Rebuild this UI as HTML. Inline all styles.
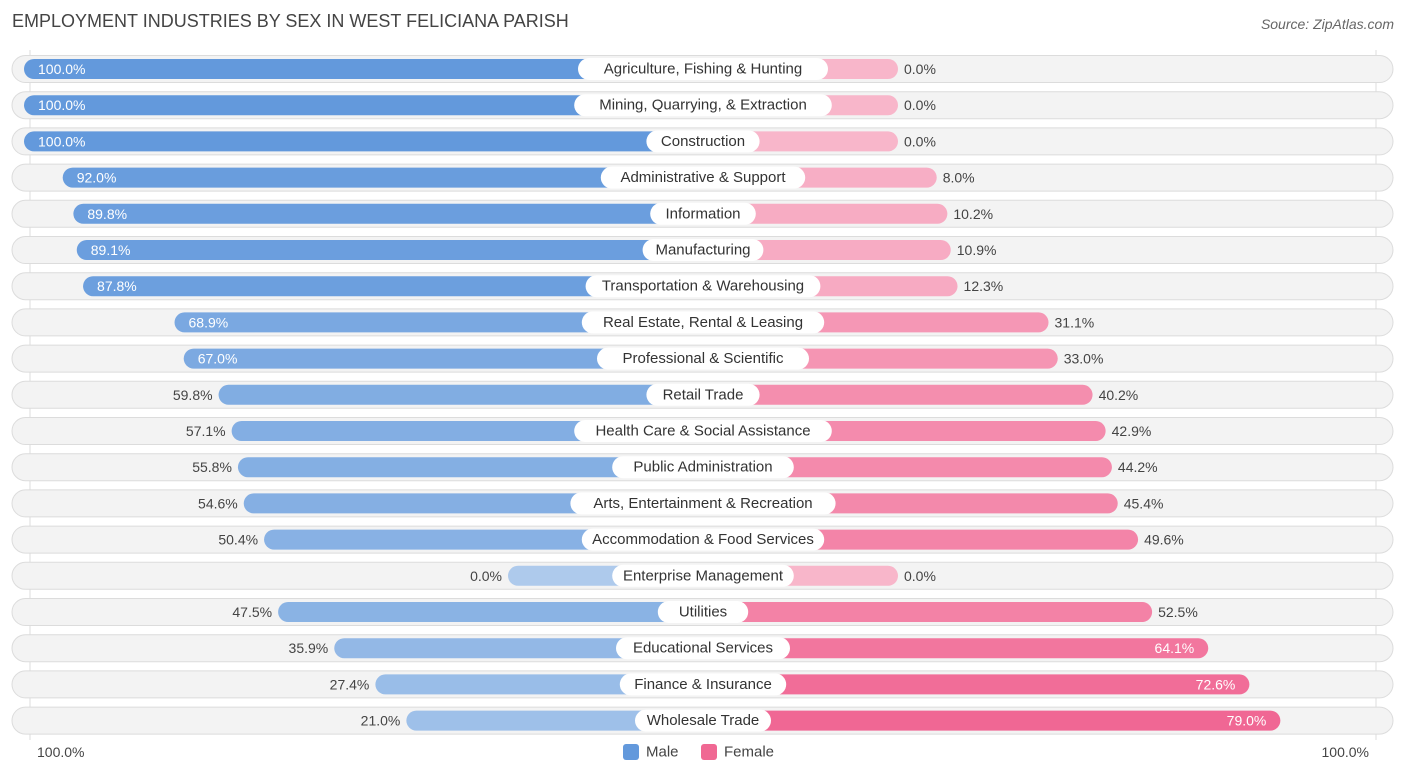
<!DOCTYPE html>
<html><head><meta charset="utf-8"><style>
body{margin:0;width:1406px;height:776px;background:#fff;font-family:"Liberation Sans",sans-serif;overflow:hidden;position:relative}
.t{position:absolute;white-space:nowrap}
</style></head><body>
<div class="t" style="left:12px;top:11px;font-size:18px;color:#444">EMPLOYMENT INDUSTRIES BY SEX IN WEST FELICIANA PARISH</div>
<div class="t" style="right:12px;top:16px;font-size:14px;color:#666;font-style:italic">Source: ZipAtlas.com</div>
<svg id="c" width="1406" height="776" style="position:absolute;left:0;top:0"></svg>
<script>
const categories=["Agriculture, Fishing & Hunting","Mining, Quarrying, & Extraction","Construction","Administrative & Support","Information","Manufacturing","Transportation & Warehousing","Real Estate, Rental & Leasing","Professional & Scientific","Retail Trade","Health Care & Social Assistance","Public Administration","Arts, Entertainment & Recreation","Accommodation & Food Services","Enterprise Management","Utilities","Educational Services","Finance & Insurance","Wholesale Trade"];
const male=[100,100,100,92.0,89.8,89.1,87.8,68.9,67.0,59.8,57.1,55.8,54.6,50.4,0,47.5,35.9,27.4,21.0];
const female=[0,0,0,8.0,10.2,10.9,12.3,31.1,33.0,40.2,42.9,44.2,45.4,49.6,0,52.5,64.1,72.6,79.0];
const NS="http://www.w3.org/2000/svg";
const svg=document.getElementById('c');
const cx=703,base=195,scale=4.84,y0=69,pitch=36.2;
function mx(v){return cx-base-v*scale;}
function fx(v){return cx+base+v*scale;}
function yOf(i){return y0+i*pitch;}
function mix(a,b,t){return 'rgb('+a.map((x,k)=>Math.round(x+(b[k]-x)*t)).join(',')+')';}
function el(tag,attrs){const e=document.createElementNS(NS,tag);for(const k in attrs)e.setAttribute(k,attrs[k]);svg.appendChild(e);return e;}
function txt(x,y,s,anchor,fill,size){const e=el('text',{x:x,y:y,'text-anchor':anchor,fill:fill,'font-size':size||14,'dominant-baseline':'central','font-family':'Liberation Sans, sans-serif'});e.textContent=s;return e;}
const g1=el('line',{x1:30,x2:30,y1:50,y2:740,stroke:'#ddd'});

const g2=el('line',{x1:1376,x2:1376,y1:50,y2:740,stroke:'#ddd'});

categories.forEach((c,i)=>{
  const y=yOf(i);
  const bg=el('rect',{x:12,y:y-13.5,width:1381,height:27,rx:13.5,fill:'#f3f3f3',stroke:'#dcdcdc','stroke-width':1});
  
  const m=male[i],f=female[i];
  const mb=el('rect',{x:mx(m),y:y-10,width:cx-mx(m),height:20,rx:10,fill:mix([174,202,236],[99,153,220],m/100)});
  
  const fb=el('rect',{x:cx,y:y-10,width:fx(f)-cx,height:20,rx:10,fill:mix([248,182,202],[240,102,147],f/80)});
  
  const lw=c.length*7.6+22;
  const lb=el('rect',{x:cx-lw/2,y:y-11,width:lw,height:22,rx:11,fill:'#fff'});
  
  const lt=txt(cx,y,c,'middle','#333',15);
  
  const ms=m.toFixed(1)+'%';
  const mt=m>=65?txt(mx(m)+14,y,ms,'start','#fff',14):txt(mx(m)-6,y,ms,'end','#444',14);
  
  const fs=f.toFixed(1)+'%';
  const ft=f>=60?txt(fx(f)-14,y,fs,'end','#fff',14):txt(fx(f)+6,y,fs,'start','#444',14);
  
});
const a1=txt(37,752,'100.0%','start','#444',14);

const a2=txt(1369,752,'100.0%','end','#444',14);

const lm=el('rect',{x:623,y:744,width:16,height:16,rx:3,fill:'#6399dc'});

const lmt=txt(646,752,'Male','start','#444',15);

const lf=el('rect',{x:701,y:744,width:16,height:16,rx:3,fill:'#f06893'});

const lft=txt(724,752,'Female','start','#444',15);

</script>
</body></html>
